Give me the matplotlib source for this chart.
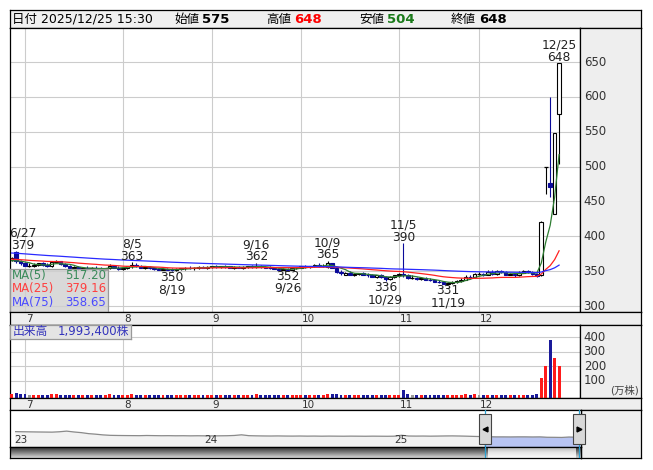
import numpy as np
import pandas as pd
import matplotlib
matplotlib.use('Agg')
import matplotlib.pyplot as plt
import matplotlib.transforms as mtransforms
from matplotlib.patches import Rectangle
from matplotlib.colors import LinearSegmentedColormap

plt.rcParams['font.family'] = ['DejaVu Sans', 'Noto Sans CJK JP']

# daily prices 2025/6/26 - 2025/12/25
opens = [366, 377, 364, 361, 358, 358, 359, 361, 359, 357, 363, 364,
         360, 357, 355, 356, 353, 355, 353, 355, 354, 352, 354, 358, 355,
         353, 355, 357, 359, 357, 355, 356, 354, 353, 352, 353, 352, 351, 353, 354, 355, 354, 355, 356, 355,
         356, 357, 356, 357, 357, 355, 356, 355, 356, 357, 356, 358, 356, 355, 354, 353, 352, 353, 352, 354,
         355, 357, 356, 357, 359, 357, 356, 361, 355, 349, 345, 348, 345, 346, 347, 345, 344, 342, 344, 341, 339, 342,
         344, 346, 345, 340, 340, 339, 340, 338, 337, 335, 334, 332, 333, 334, 336, 338, 342, 341,
         346, 346, 345, 349, 346, 350, 349, 345, 346, 344, 348, 350, 349, 346, 345, 500, 476, 432, 575]
highs = [370, 379, 366, 363, 362, 361, 362, 363, 361, 364, 366, 365,
         362, 359, 358, 357, 356, 357, 356, 358, 356, 355, 360, 359, 357,
         356, 358, 363, 361, 359, 357, 358, 356, 355, 354, 355, 354, 354, 355, 356, 357, 356, 357, 358, 357,
         358, 359, 358, 359, 358, 357, 358, 357, 358, 359, 362, 359, 358, 357, 356, 355, 354, 355, 355, 356,
         358, 359, 358, 360, 361, 360, 365, 362, 356, 351, 349, 350, 348, 348, 349, 347, 346, 345, 346, 343, 343, 345,
         347, 390, 346, 344, 342, 341, 342, 340, 339, 337, 336, 335, 336, 337, 340, 344, 345, 348,
         349, 348, 351, 351, 352, 352, 350, 348, 347, 350, 352, 352, 350, 347, 422, 500, 600, 548, 648]
lows = [365, 362, 359, 357, 356, 356, 357, 358, 356, 356, 361, 359,
        356, 354, 353, 352, 352, 352, 351, 353, 351, 350, 353, 354, 352,
        351, 353, 355, 356, 354, 353, 353, 352, 351, 351, 351, 350, 350, 351, 352, 353, 352, 353, 354, 353,
        354, 355, 354, 355, 354, 353, 354, 353, 355, 355, 355, 355, 354, 353, 353, 352, 352, 352, 352, 353,
        354, 355, 355, 356, 356, 356, 355, 354, 347, 345, 344, 344, 343, 344, 344, 342, 341, 340, 340, 336, 338, 340,
        342, 342, 339, 339, 338, 337, 337, 336, 334, 333, 332, 331, 332, 333, 335, 337, 339, 340,
        344, 343, 344, 345, 345, 347, 344, 344, 342, 343, 347, 347, 345, 341, 343, 460, 456, 432, 504]
closes = [369, 364, 361, 358, 358, 359, 361, 359, 357, 363, 364, 360,
          357, 355, 356, 353, 355, 353, 355, 354, 352, 354, 358, 355, 353,
          355, 357, 359, 357, 355, 356, 354, 353, 352, 353, 352, 351, 353, 354, 355, 354, 355, 356, 355, 356,
          357, 356, 357, 356, 355, 356, 355, 356, 357, 356, 358, 356, 355, 354, 353, 352, 353, 352, 354, 355,
          357, 356, 357, 359, 357, 358, 362, 355, 349, 347, 348, 345, 346, 347, 345, 344, 342, 344, 341, 339, 342, 344,
          346, 345, 340, 340, 339, 340, 338, 337, 335, 334, 332, 333, 334, 336, 338, 342, 341, 346,
          346, 345, 349, 346, 350, 349, 345, 346, 344, 348, 350, 349, 346, 343, 420, 500, 470, 548, 648]
# volume, 万株
volumes = [6, 14, 9, 7, 5, 4, 5, 4, 5, 8, 6, 5,
           4, 5, 4, 5, 4, 3, 4, 5, 4, 4, 7, 5, 4,
           4, 5, 8, 5, 4, 4, 3, 4, 3, 3, 4, 4, 3, 4, 4, 3, 3, 4, 3, 3,
           4, 3, 3, 4, 3, 3, 4, 3, 4, 3, 6, 4, 3, 3, 3, 4, 3, 4, 3, 3,
           3, 3, 4, 5, 4, 4, 9, 7, 6, 5, 4, 4, 3, 3, 4, 3, 4, 3, 4, 5, 4, 4,
           4, 36, 6, 4, 3, 3, 4, 3, 4, 3, 4, 5, 4, 4, 5, 6, 4, 6,
           5, 4, 5, 4, 5, 4, 4, 3, 4, 5, 5, 4, 4, 6, 120, 200, 380, 260, 199.34]
# closes before 6/26 (for the moving averages)
prior_closes = [391, 393, 392, 394, 396, 395, 393, 391, 392, 390,
                388, 390, 387, 386, 388, 385, 384, 386, 383, 382,
                382, 379, 378, 380, 377, 379, 376, 378, 375, 377,
                376, 374, 375, 373, 376, 374, 372, 373, 375, 372,
                374, 371, 373, 372, 370, 373, 371, 372, 370, 371,
                370, 372, 369, 371, 368, 370, 367, 369, 366, 368, 367, 365,
                368, 366, 369, 367, 365, 366, 364, 366, 365, 363, 364, 364]
holidays = ['2025-07-21', '2025-08-11', '2025-09-15', '2025-09-23',
            '2025-10-13', '2025-11-03', '2025-11-24']
high_marks = ['6/27', '8/5', '9/16', '10/9', '11/5', '12/25']
low_marks = ['8/19', '9/26', '10/29', '11/19']
ma_periods = [5, 25, 75]
ma_colors = ['#2e7d32', '#ff2020', '#2a2aff']
ma_text_colors = ['#3a8a5a', '#ff4040', '#4a4aff']
# navigator: biweekly closes 2023/1 - 2025/12
nav_closes = [540, 536, 532, 528, 525, 522, 535, 558, 528, 505, 470, 450, 425,
              410, 405, 402, 400, 398, 404, 400, 396, 398, 394, 396, 392, 395,
              392, 390, 393, 396, 405, 428, 398, 392, 388, 386, 389, 385, 383,
              386, 382, 384, 380, 383, 381, 379, 382, 380, 378, 381, 379, 377,
              380, 412, 386, 383, 385, 381, 384, 388, 390, 386, 380, 372, 366,
              361, 355, 355, 353, 356, 356, 352, 355, 342, 340, 336, 350, 343]

W, H = 653, 470


def rect(x0, y0, x1, y1):
    return [x0 / W, 1 - y1 / H, (x1 - x0) / W, (y1 - y0) / H]


def bare(a, fc):
    a.set_facecolor(fc)
    a.set_xticks([])
    a.set_yticks([])
    for s in a.spines.values():
        s.set_linewidth(0.9)
        s.set_color('black')


dates = pd.bdate_range('2025-06-26', '2025-12-25')
dates = dates[~dates.isin(pd.to_datetime(holidays))]
x = np.arange(len(dates))
o, h, l, c = map(np.array, (opens, highs, lows, closes))
labels = [f'{d.month}/{d.day}' for d in dates]
month_idx = [i for i in range(1, len(dates)) if dates[i].month != dates[i - 1].month]

allc = pd.Series(prior_closes + closes, dtype=float)
mas = [allc.rolling(p).mean().values[-len(closes):] for p in ma_periods]

XL = (-0.37, 127.7)
XL_wide = (XL[0], XL[0] + (XL[1] - XL[0]) * (641 - 10) / (580 - 10))
YL = (291.4, 698.8)

fig = plt.figure(figsize=(W / 100, H / 100), dpi=100)
fig.patch.set_facecolor('white')

# header
axh = fig.add_axes(rect(10, 10, 641, 28))
bare(axh, '#f0f0f0')
fig.text(12 / W, 1 - 19.5 / H, f'日付 {dates[-1]:%Y/%m/%d} 15:30', fontsize=9, va='center')
for name, val, col, px in [('始値', o[-1], 'black', 174), ('高値', h[-1], '#ff0000', 266),
                           ('安値', l[-1], '#1a7a1a', 359), ('終値', c[-1], 'black', 451)]:
    fig.text(px / W, 1 - 19.5 / H, name, fontsize=9, va='center')
    fig.text((px + 28) / W, 1 - 19.5 / H, str(val), fontsize=9.5, va='center',
             color=col, fontweight='bold')

# price panel
ax = fig.add_axes(rect(10, 28, 580, 312))
bare(ax, 'white')
ax.set_xlim(XL)
ax.set_ylim(YL)
price_ticks = list(range(300, 651, 50))
for v in price_ticks:
    ax.axhline(v, color='#cccccc', lw=0.8, zorder=0)
for i in month_idx:
    ax.axvline(i, color='#cccccc', lw=0.8, zorder=0)

down = c < o
edge = np.where(down, '#0a0a9a', 'black')
face = np.where(down, '#0a0a9a', 'white')
ax.vlines(x, l, h, colors=edge, lw=0.8, zorder=3)
body = np.abs(c - o)
m = body > 0
ax.bar(x[m], body[m], bottom=np.minimum(o, c)[m], width=0.8, color=face[m],
       edgecolor=edge[m], lw=0.8, zorder=4)
flat = ~m
ax.hlines(c[flat], x[flat] - 0.45, x[flat] + 0.45, colors='black', lw=0.9, zorder=4)

for ma, col in zip(mas, ma_colors):
    ax.plot(x, ma, color=col, lw=0.9, zorder=5)

for mk in high_marks:
    i = labels.index(mk)
    ax.annotate(f'{mk}\n{h[i]}', (max(i, 2.5), h[i]), xytext=(0, -0.5), textcoords='offset points',
                ha='center', va='bottom', fontsize=8.8, linespacing=0.92, color='#222222',
                annotation_clip=False, zorder=7)
for mk in low_marks:
    i = labels.index(mk)
    ax.annotate(f'{l[i]}\n{mk}', (i, l[i]), xytext=(0, 0), textcoords='offset points',
                ha='center', va='top', fontsize=8.8, linespacing=0.92, color='#222222',
                annotation_clip=False, zorder=7)

axr = fig.add_axes(rect(580, 28, 641, 312))
bare(axr, '#eeeeee')
axr.set_ylim(YL)
tr = mtransforms.blended_transform_factory(axr.transAxes, axr.transData)
for v in price_ticks:
    axr.text(0.06, v, str(v), transform=tr, va='center', fontsize=8.5, color='#333333')

# moving average legend
axm = fig.add_axes(rect(10, 269, 108, 312))
bare(axm, '#d0d0d0')
axm.patch.set_alpha(0.8)
for s in axm.spines.values():
    s.set_color('#999999')
for k, (p, ma, col) in enumerate(zip(ma_periods, mas, ma_text_colors)):
    yy = 0.86 - k * 0.325
    axm.text(0.02, yy, f'MA({p})', color=col, fontsize=8.5, va='center', transform=axm.transAxes)
    axm.text(0.98, yy, f'{ma[-1]:.2f}', color=col, fontsize=8.5, va='center', ha='right',
             transform=axm.transAxes)


def date_strip(y0, y1):
    a = fig.add_axes(rect(10, y0, 641, y1))
    bare(a, '#eeeeee')
    a.set_xlim(XL_wide)
    a.set_ylim(0, 1)
    for i in month_idx:
        a.text(i + 0.2, 0.45, str(dates[i].month), fontsize=7.5, va='center', color='#333333')
    return a


date_strip(312, 325)

# volume panel
VL = (-19, 484)
axv = fig.add_axes(rect(10, 325, 580, 398))
bare(axv, 'white')
axv.set_xlim(XL)
axv.set_ylim(VL)
vol_ticks = [100, 200, 300, 400]
for v in vol_ticks:
    axv.axhline(v, color='#cccccc', lw=0.8, zorder=0)
for i in month_idx:
    axv.axvline(i, color='#cccccc', lw=0.8, zorder=0)
vol = np.array(volumes)
chg = np.sign(np.diff(np.concatenate([[prior_closes[-1]], c])))
vcol = np.where(chg > 0, '#ff1a1a', np.where(chg < 0, '#1a1a9a', '#999999'))
axv.bar(x, vol - VL[0], bottom=VL[0], width=0.66, color=vcol, zorder=3)

axvr = fig.add_axes(rect(580, 325, 641, 398))
bare(axvr, '#eeeeee')
axvr.set_ylim(VL)
tr = mtransforms.blended_transform_factory(axvr.transAxes, axvr.transData)
for v in vol_ticks:
    axvr.text(0.06, v, str(v), transform=tr, va='center', fontsize=8.5, color='#333333')
axvr.text(0.97, 0.1, '(万株)', transform=axvr.transAxes, ha='right', va='center',
          fontsize=7.5, color='#444444')

axvl = fig.add_axes(rect(10, 325, 131, 339))
bare(axvl, '#e4e4e4')
for s in axvl.spines.values():
    s.set_color('#999999')
axvl.text(0.02, 0.5, '出来高', color='#3333bb', fontsize=8.5, va='center', transform=axvl.transAxes)
axvl.text(0.98, 0.5, f'{int(round(vol[-1] * 10000)):,}株', color='#3333bb', fontsize=8.5,
          va='center', ha='right', transform=axvl.transAxes)

date_strip(398, 410)


# navigator
def yfrac(d):
    return d.year + (d.dayofyear - 1) / 365


nav_dates = pd.date_range('2023-01-06', periods=len(nav_closes), freq='14D')
nx = np.array([yfrac(d) for d in nav_dates])
ny = np.array(nav_closes)
NXL = (2023 - 3 / 190, 2023 + 568 / 190)
NYL = (0, 1300)
s0, s1 = yfrac(dates[0]), yfrac(dates[-1])

axnr = fig.add_axes(rect(581, 410, 641, 458))
bare(axnr, '#eeeeee')

axn = fig.add_axes(rect(10, 410, 581, 447))
bare(axn, 'white')
axn.set_xlim(NXL)
axn.set_ylim(NYL)
axn.fill_between(nx, ny, NYL[0], color='#f2f2f2', zorder=1)
sel = nx >= s0
axn.fill_between(np.concatenate([[s0], nx[sel], [s1]]),
                 np.concatenate([[np.interp(s0, nx, ny)], ny[sel], [ny[-1]]]),
                 NYL[0], color='#b8c4f2', zorder=2)
axn.plot(nx, ny, color='#8a8a8a', lw=0.9, zorder=3)
ntr = mtransforms.blended_transform_factory(axn.transData, axn.transAxes)
for yr in [2023, 2024, 2025]:
    axn.text(yr + 0.005, 0.2, str(yr)[2:], fontsize=7.5, va='center', color='#333333', transform=ntr)

# scroll bar
axs = fig.add_axes(rect(10, 447, 581, 458))
bare(axs, '#eeeeee')
axs.set_xlim(NXL)
axs.set_ylim(0, 1)
dark = LinearSegmentedColormap.from_list('d', ['#d8d8d8', '#808080', '#303030'])
lite = LinearSegmentedColormap.from_list('l', ['#fbfbfb', '#e6e6e6', '#b8b8b8'])
grad = np.linspace(0, 1, 32).reshape(-1, 1)
axs.imshow(grad, cmap=dark, extent=(NXL[0], NXL[1], 1, 0), aspect='auto', zorder=1)
axs.imshow(grad, cmap=lite, extent=(s0 + 0.02, s1 - 0.02, 1, 0), aspect='auto', zorder=2)
axs.set_ylim(0, 1)
axs.set_xlim(NXL)
for sx in (s0, s1):
    axs.axvline(sx, color='#2aa0d0', lw=0.9, zorder=4)

# handles, drawn on top of everything
for sx, mk in [(s0, '<'), (s1, '>')]:
    axn.axvline(sx, color='#2aa0d0', lw=0.9, zorder=4)
    axn.add_patch(Rectangle((sx - 0.031, 0.08), 0.062, 0.8, transform=ntr, facecolor='#d8d8d8',
                            edgecolor='#444444', lw=0.8, zorder=5, clip_on=False))
    axn.plot([sx], [0.48], marker=mk, ms=3.5, color='black', transform=ntr, zorder=6, clip_on=False)

fig.savefig('out.png', dpi=100)
